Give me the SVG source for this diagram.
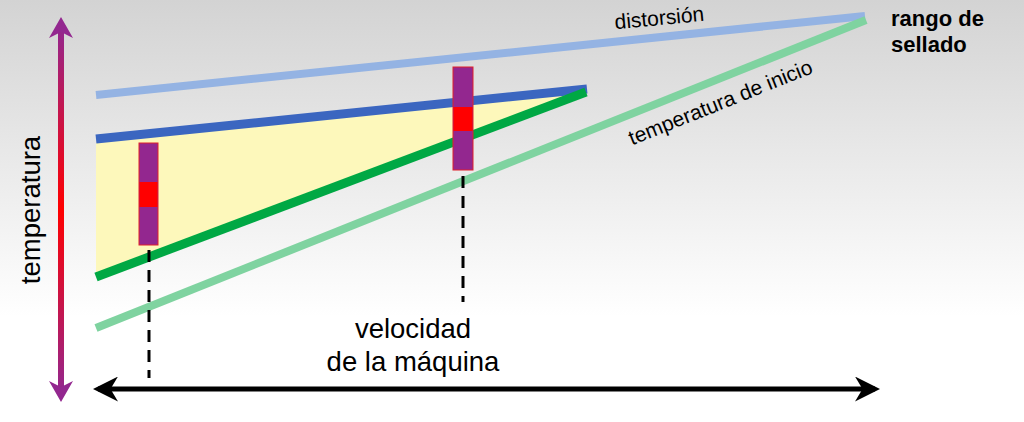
<svg xmlns="http://www.w3.org/2000/svg" width="1024" height="422" viewBox="0 0 1024 422">
<defs>
<linearGradient id="bg" x1="0" y1="0" x2="0" y2="1">
<stop offset="0" stop-color="#d3d3d3"/>
<stop offset="0.75" stop-color="#ffffff"/>
<stop offset="1" stop-color="#ffffff"/>
</linearGradient>
<linearGradient id="tg" x1="0" y1="0" x2="0" y2="1">
<stop offset="0" stop-color="#93278f"/>
<stop offset="0.5" stop-color="#ff0000"/>
<stop offset="1" stop-color="#93278f"/>
</linearGradient>
<marker id="ab" viewBox="0 0 10 10" refX="8" refY="5" markerWidth="5" markerHeight="5" orient="auto-start-reverse" markerUnits="strokeWidth">
<path d="M0,0 L10,5 L0,10 L3,5 Z" fill="#000"/>
</marker>
<style>
text{font-family:"Liberation Sans",Arial,sans-serif;fill:#000}
.big{font-size:27.5px}
.sm{font-size:21px}
.bold{font-size:22px;font-weight:bold}
.dash{stroke:#000;stroke-width:3;stroke-dasharray:12,8;fill:none}
.bar{fill:#93278f;stroke:#e0202a;stroke-width:1}
</style>
</defs>
<rect width="1024" height="422" fill="url(#bg)"/>
<g id="zone">
<polygon points="96,143 586,92 96,273" fill="#fdf8bb"/>
</g>
<g id="connectors">
<line x1="96" y1="95" x2="865" y2="16" stroke="#94b3e3" stroke-width="8"/>
<line x1="96" y1="328" x2="866" y2="20" stroke="#7fd3a0" stroke-width="8"/>
<line x1="96" y1="139" x2="587" y2="89" stroke="#3b66c0" stroke-width="9"/>
<line x1="96" y1="277" x2="586" y2="92" stroke="#00a844" stroke-width="9"/>
<line class="dash" x1="149" y1="250" x2="149" y2="378"/>
<line class="dash" x1="463" y1="176" x2="463" y2="302"/>
<line x1="98" y1="389" x2="875" y2="389" stroke="#000" stroke-width="5" marker-start="url(#ab)" marker-end="url(#ab)"/>
<rect x="58" y="27" width="6" height="366" fill="url(#tg)"/>
<path d="M61,17 L73,38 L61,32 L49,38 Z" fill="#93278f"/>
<path d="M61,402 L73,381 L61,387 L49,381 Z" fill="#93278f"/>
</g>
<g id="bar-left">
<rect class="bar" x="139" y="143" width="19" height="102"/>
<rect x="139.5" y="182" width="18" height="25" fill="#ff0000"/>
</g>
<g id="bar-right">
<rect class="bar" x="453" y="67" width="20" height="103"/>
<rect x="453.5" y="107" width="19" height="24" fill="#ff0000"/>
</g>
<g id="labels">
<text class="big" transform="translate(40,210) rotate(-90)" text-anchor="middle">temperatura</text>
<text class="big" x="413" y="338" text-anchor="middle">velocidad</text>
<text class="big" x="413" y="371" text-anchor="middle">de la máquina</text>
<text class="sm" transform="translate(660,25) rotate(-5.5)" text-anchor="middle">distorsión</text>
<text class="sm" transform="translate(723,109) rotate(-21.8)" text-anchor="middle">temperatura de inicio</text>
<text class="bold" x="891" y="26">rango de</text>
<text class="bold" x="891" y="52">sellado</text>
</g>
</svg>
